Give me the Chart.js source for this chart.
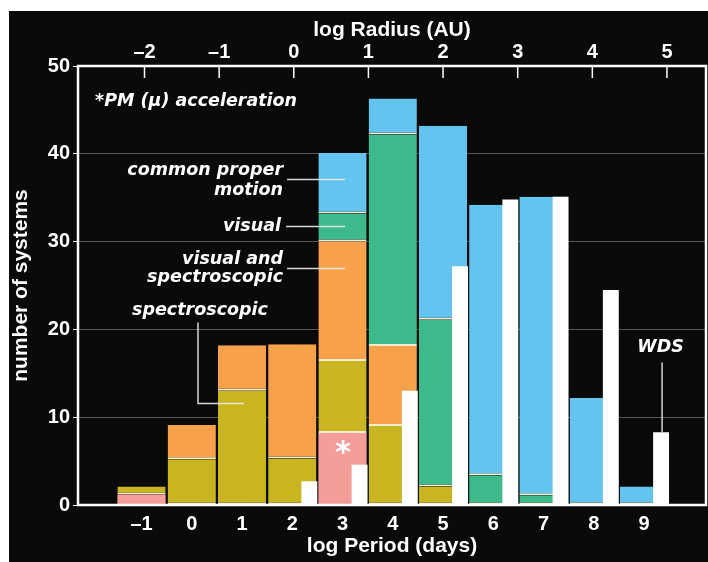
<!DOCTYPE html>
<html>
<head>
<meta charset="utf-8">
<script src="https://cdn.jsdelivr.net/npm/chart.js@4.4.0/dist/chart.umd.min.js"></script>
<style>
  html, body { margin: 0; padding: 0; background: #fff; }
  #wrap { position: absolute; left: 9px; top: 11px; width: 699px; height: 551px; background: #0a0a0a; }
  canvas { display: block; }
</style>
</head>
<body>
<div id="wrap"><canvas id="chart" width="699" height="551"></canvas></div>
<script>
// log period bins (days) and top axis ticks (log radius, AU)
var periods = [-1, 0, 1, 2, 3, 4, 5, 6, 7, 8, 9];
var radiusTicks = [-2, -1, 0, 1, 2, 3, 4, 5];

// number of systems per bin, stacked bottom to top
var pmAccel       = [1.2, null, null, null, 8.2, null, null, null, null, null, null];
var spectroscopic = [0.9, 5.2, 13.0, 5.3, 8.2, 9.0, 2.1, null, null, null, null];
var visualSpec    = [null, 3.9, 5.2, 13.0, 13.6, 9.1, null, null, null, null, null];
var visual        = [null, null, null, null, 3.2, 24.1, 19.0, 3.4, 1.1, null, null];
var commonPM      = [null, null, null, null, 6.9, 4.1, 22.1, 30.8, 34.0, 12.2, 2.1];
// Washington Double Star catalogue
var wds           = [null, null, null, 2.7, 4.6, 13.0, 27.2, 34.8, 35.1, 24.5, 8.3];

(function () {
  'use strict';

  var WHITE = '#ffffff';
  var SEP = '#f3eed0';
  var tickFont = { family: '"Liberation Sans", Arial, sans-serif', size: 20, weight: 'bold' };
  var titleFont = { family: '"Liberation Sans", Arial, sans-serif', size: 21, weight: 'bold' };
  var noteFont = 'italic bold 17.5px "DejaVu Sans", Verdana, sans-serif';

  // bottom axis range; the WDS axis is the same range shifted so its bars sit in the right third of a bin
  var xMin = -2.264, xMax = 10.234, wdsShift = 0.34;

  function pts(vals) {
    return periods.map(function (p, i) { return { x: p, y: vals[i] }; });
  }
  function dash(v) { return v < 0 ? '\u2013' + Math.abs(v) : String(v); }
  function tickList(list) {
    return function (s) { s.ticks = list.map(function (v) { return { value: v }; }); };
  }

  function layer(label, vals, color, sep) {
    return {
      label: label,
      data: pts(vals),
      xAxisID: 'x',
      grouped: false,
      backgroundColor: color,
      borderColor: SEP,
      borderWidth: sep ? { top: 0, left: 0, right: 0, bottom: 2 } : 0,
      borderSkipped: false,
      categoryPercentage: 0.96,
      barPercentage: 1,
      order: 1
    };
  }

  // text and leader lines, placed in data units
  var notes = [
    { text: '*PM (\u03bc) acceleration', x: -1.925, y: 45.96, align: 'left' },
    { text: 'common proper', x: 1.816, y: 38.1, align: 'right' },
    { text: 'motion', x: 1.816, y: 35.8, align: 'right' },
    { text: 'visual', x: 1.776, y: 31.72, align: 'right' },
    { text: 'visual and', x: 1.816, y: 27.96, align: 'right' },
    { text: 'spectroscopic', x: 1.816, y: 25.91, align: 'right' },
    { text: 'spectroscopic', x: 0.164, y: 22.15, align: 'center' },
    { text: 'WDS', x: 9.33, y: 17.94, align: 'center' }
  ];
  var leaders = [
    [[1.896, 37.07], [3.05, 37.07]],
    [[1.876, 31.72], [3.05, 31.72]],
    [[1.896, 26.94], [3.05, 26.94]],
    [[0.124, 20.79], [0.124, 11.56], [1.04, 11.56]],
    [[9.36, 16.23], [9.36, 8.26]]
  ];

  var annotate = {
    id: 'annotate',
    afterDatasetsDraw: function (chart) {
      var ctx = chart.ctx, sx = chart.scales.x, sy = chart.scales.y, a = chart.chartArea;
      var top = chart.scales.x2;
      ctx.save();
      ctx.strokeStyle = WHITE;
      ctx.lineWidth = 2.5;
      ctx.strokeRect(a.left, a.top, a.right - a.left, a.bottom - a.top);
      ctx.lineWidth = 1.5;
      top.ticks.forEach(function (t) {
        var px = top.getPixelForValue(t.value);
        ctx.beginPath(); ctx.moveTo(px, a.top); ctx.lineTo(px, a.top + 12); ctx.stroke();
      });
      ctx.strokeStyle = 'rgba(235,235,235,0.9)';
      leaders.forEach(function (l) {
        ctx.beginPath();
        l.forEach(function (p, i) {
          var px = sx.getPixelForValue(p[0]), py = sy.getPixelForValue(p[1]);
          if (i === 0) { ctx.moveTo(px, py); } else { ctx.lineTo(px, py); }
        });
        ctx.stroke();
      });
      ctx.fillStyle = WHITE;
      ctx.font = noteFont;
      ctx.textBaseline = 'middle';
      notes.forEach(function (n) {
        ctx.textAlign = n.align;
        ctx.fillText(n.text, sx.getPixelForValue(n.x), sy.getPixelForValue(n.y));
      });
      ctx.font = 'bold 30px "DejaVu Sans", sans-serif';
      ctx.textAlign = 'center';
      ctx.fillText('*', sx.getPixelForValue(3.01), sy.getPixelForValue(6.43) + 6);
      ctx.restore();
    }
  };

  new Chart(document.getElementById('chart'), {
    type: 'bar',
    data: {
      datasets: [
        { label: 'WDS', data: pts(wds), xAxisID: 'xw', grouped: false, backgroundColor: WHITE,
          categoryPercentage: 0.96, barPercentage: 0.33, order: 0 },
        layer('PM acceleration', pmAccel, '#f59d98', false),
        layer('spectroscopic', spectroscopic, '#c9b51f', true),
        layer('visual and spectroscopic', visualSpec, '#f7a24b', true),
        layer('visual', visual, '#3dba8c', true),
        layer('common proper motion', commonPM, '#62c4ef', true)
      ]
    },
    options: {
      responsive: false,
      animation: false,
      layout: { padding: { top: 0, left: 0, bottom: 0, right: 2 } },
      plugins: { legend: { display: false }, tooltip: { enabled: false } },
      scales: {
        x: {
          type: 'linear', position: 'bottom', min: xMin, max: xMax, offset: false, stacked: true,
          afterBuildTicks: tickList(periods),
          grid: { display: false, drawTicks: false }, border: { display: false },
          ticks: { color: WHITE, font: tickFont, padding: 7, maxRotation: 0, callback: dash },
          title: { display: true, text: 'log Period (days)', color: WHITE, font: titleFont, padding: { top: 0, bottom: 3 } },
          afterFit: function (s) { s.height = 57; }
        },
        xw: {
          type: 'linear', display: false, min: xMin - wdsShift, max: xMax - wdsShift, offset: false, stacked: true,
          afterBuildTicks: tickList(periods)
        },
        x2: {
          type: 'linear', position: 'top', min: -2.891, max: 5.523, offset: false,
          afterBuildTicks: tickList(radiusTicks),
          grid: { display: false, drawTicks: false }, border: { display: false },
          ticks: { color: WHITE, font: tickFont, padding: 2, maxRotation: 0, callback: dash },
          title: { display: true, text: 'log Radius (AU)', color: WHITE, font: titleFont, padding: { top: 7, bottom: 0 } },
          afterFit: function (s) { s.height = 55; }
        },
        y: {
          min: 0, max: 50, stacked: true,
          ticks: { stepSize: 10, color: WHITE, font: tickFont, padding: 3 },
          grid: { color: 'rgba(160,160,160,0.5)', lineWidth: 1, tickColor: WHITE, tickLength: 5 },
          border: { display: false },
          title: { display: true, text: 'number of systems', color: WHITE, font: titleFont, padding: { top: 0, bottom: 0 } },
          afterFit: function (s) { s.width = 69; }
        }
      }
    },
    plugins: [annotate]
  });
})();
</script>
</body>
</html>
